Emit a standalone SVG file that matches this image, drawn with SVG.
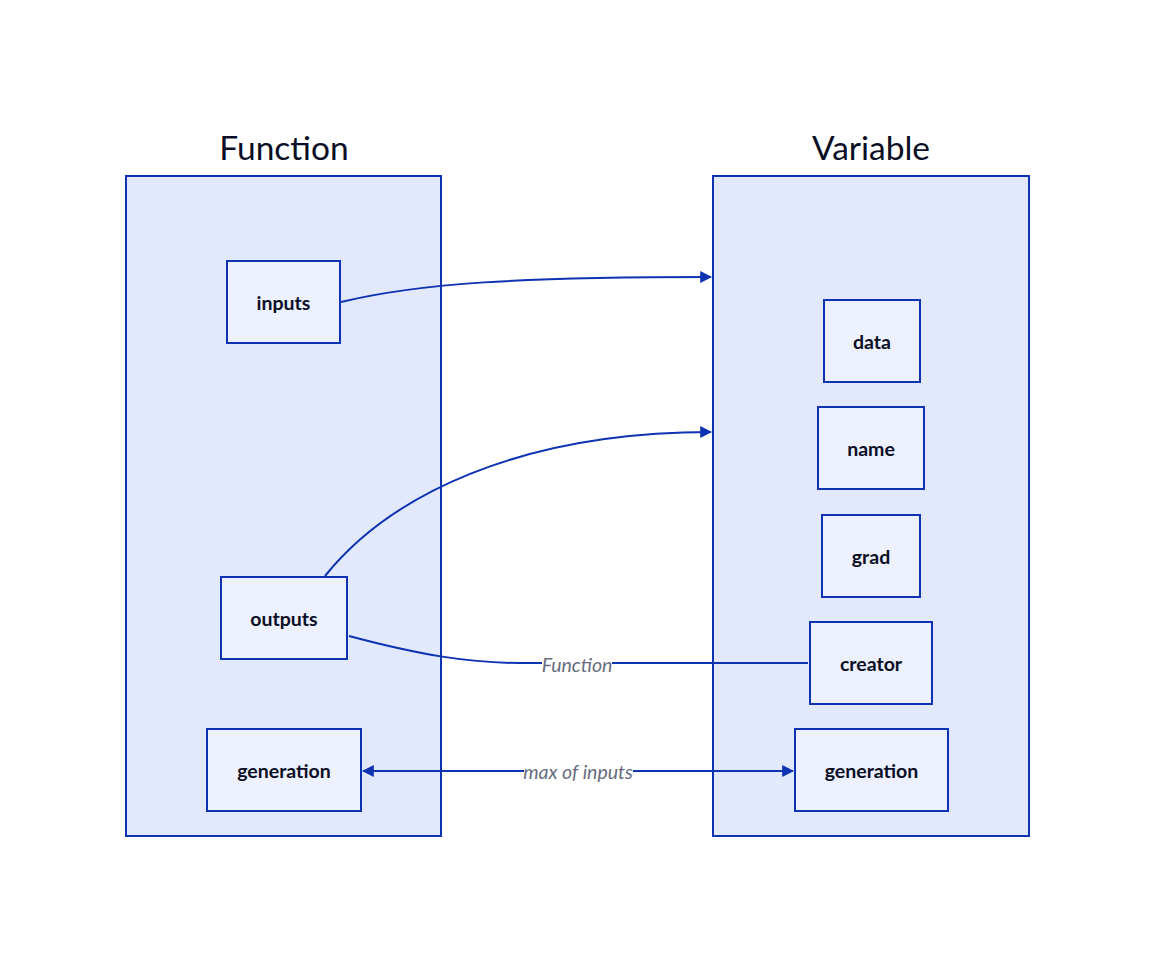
<svg xmlns="http://www.w3.org/2000/svg" width="1155" height="963" viewBox="0 0 1155 963">
<style>
.container{fill:#E3E9FD;stroke:#0D32B2;stroke-width:2}
.node{fill:#EDF0FD;stroke:#0D32B2;stroke-width:2}
.title{font-family:Lato,"Noto Sans",sans-serif;font-size:33.5px;fill:#0A0F25;text-anchor:middle}
.label{font-family:Lato,"Noto Sans",sans-serif;font-size:19.5px;font-weight:bold;fill:#0A0F25;text-anchor:middle;dominant-baseline:central}
.edge{fill:none;stroke:#0D32B2;stroke-width:2}
.elabel{font-family:Lato,"Noto Sans",sans-serif;font-size:19.5px;font-style:italic;fill:#676C7E;text-anchor:middle;dominant-baseline:central}
</style>
<defs>
<marker id="arr" viewBox="0 0 10 10" refX="9" refY="5" markerWidth="12" markerHeight="12" markerUnits="userSpaceOnUse" orient="auto-start-reverse">
<path d="M0,0 L10,5 L0,10 Z" fill="#0D32B2"/>
</marker>
</defs>
<rect width="1155" height="963" fill="#FFFFFF"/>
<g id="Function">
<rect class="container" x="126" y="176" width="315" height="660"/>
<text class="title" x="284" y="160">Function</text>
</g>
<g id="Variable">
<rect class="container" x="713" y="176" width="316" height="660"/>
<text class="title" x="871" y="160">Variable</text>
</g>
<g id="Function.inputs"><rect class="node" x="227" y="261" width="113" height="82"/><text class="label" x="283.5" y="302">inputs</text></g>
<g id="Function.outputs"><rect class="node" x="221" y="577" width="126" height="82"/><text class="label" x="284" y="618">outputs</text></g>
<g id="Function.generation"><rect class="node" x="207" y="729" width="154" height="82"/><text class="label" x="284" y="770">generation</text></g>
<g id="Variable.data"><rect class="node" x="824" y="300" width="96" height="82"/><text class="label" x="872" y="341">data</text></g>
<g id="Variable.name"><rect class="node" x="818" y="407" width="106" height="82"/><text class="label" x="871" y="448">name</text></g>
<g id="Variable.grad"><rect class="node" x="822" y="515" width="98" height="82"/><text class="label" x="871" y="556">grad</text></g>
<g id="Variable.creator"><rect class="node" x="810" y="622" width="122" height="82"/><text class="label" x="871" y="663">creator</text></g>
<g id="Variable.generation"><rect class="node" x="795" y="729" width="153" height="82"/><text class="label" x="871.5" y="770">generation</text></g>
<g id="connectors">
<path class="edge" d="M341,302 C420,283 520,277 711,277" marker-end="url(#arr)"/>
<path class="edge" d="M325,576 C390,495 520,432 711,432" marker-end="url(#arr)"/>
<path class="edge" d="M349,636 C420,655 470,663 520,663 L808,663"/>
<rect x="542" y="652" width="70" height="22" fill="#FFFFFF"/>
<text class="elabel" x="577" y="664">Function</text>
<path class="edge" d="M363,771 L793,771" marker-start="url(#arr)" marker-end="url(#arr)"/>
<rect x="524" y="760" width="109" height="22" fill="#FFFFFF"/>
<text class="elabel" x="578" y="771">max of inputs</text>
</g>
</svg>
